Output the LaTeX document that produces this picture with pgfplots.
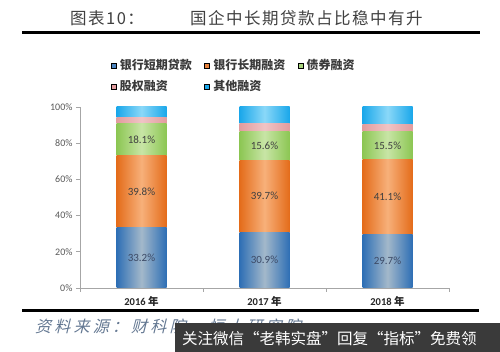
\documentclass[border=0pt]{standalone}
\usepackage{pgfplots}
\pgfplotsset{compat=1.18}
\usepackage{pgfplotstable}
\usepackage{fontspec}
\setmainfont{Carlito}
\newfontfamily\cjk{Noto Sans CJK SC}
\newfontfamily\cjksl[FakeSlant=0.25, LetterSpace=20]{Noto Sans CJK SC}
\newfontfamily\cjktitle[LetterSpace=9]{Noto Sans CJK SC}

\definecolor{blueE}{HTML}{2E6FB5}
\definecolor{blueC}{HTML}{A3B8CA}
\definecolor{orangeE}{HTML}{E46C1A}
\definecolor{orangeC}{HTML}{F7B07A}
\definecolor{greenE}{HTML}{8CC653}
\definecolor{greenC}{HTML}{C8E5A6}
\definecolor{pinkE}{HTML}{E29C9E}
\definecolor{pinkC}{HTML}{F0C4C5}
\definecolor{skyE}{HTML}{1AA7EA}
\definecolor{skyC}{HTML}{8AD8F8}
\definecolor{axgray}{HTML}{A6A6A6}
\definecolor{labgray}{HTML}{595959}
\definecolor{titlegray}{HTML}{404040}
\definecolor{srcblue}{HTML}{647892}
\definecolor{wmgray}{HTML}{3A3A3A}
\definecolor{legtext}{HTML}{3A3A3A}
\definecolor{bluelab}{HTML}{3C4A66}

% one table per year: x, then the five shares
\pgfplotstableread{
x short long bond equity other
0 33.2 39.8 18.1 3.0 5.9
}\dataA
\pgfplotstableread{
x short long bond equity other
1 30.9 39.7 15.6 4.5 9.3
}\dataB
\pgfplotstableread{
x short long bond equity other
2 29.7 41.1 15.5 4.0 9.7
}\dataC

\pgfplotsset{
  sqleg/.style={legend image code/.code={\fill[##1] (0pt,-2.5pt) rectangle (5pt,2.5pt);}},
  frame/.style={at={(80pt,64pt)}, anchor=south west,
    scale only axis, width=369pt, height=181pt,
    xmin=-0.5, xmax=2.5, ymin=0, ymax=100},
  barsaxis/.style={frame, hide axis, ybar stacked, bar width=50pt},
  sh/.style={draw=none, left color=#1E, right color=#1E, middle color=#1C},
}
\newcommand\yearbars[1]{%
\begin{axis}[barsaxis]
\addplot[sh=blue] table[x=x,y=short]{#1};
\addplot[sh=orange] table[x=x,y=long]{#1};
\addplot[sh=green] table[x=x,y=bond]{#1};
\addplot[sh=pink] table[x=x,y=equity]{#1};
\addplot[sh=sky] table[x=x,y=other]{#1};
\end{axis}}

\begin{document}
\begin{tikzpicture}[x=1pt,y=1pt]
\useasboundingbox (0,0) rectangle (500,352);
\node[anchor=west, text=titlegray, font=\cjktitle\fontsize{16.5}{17}\selectfont, inner sep=0pt] at (70,334) {图表10：};
\node[anchor=west, text=titlegray, font=\cjktitle\fontsize{16.5}{17}\selectfont, inner sep=0pt] at (190,334) {国企中长期贷款占比稳中有升};
\fill[black] (22,317.5) rectangle (480,320.5);
\fill[black] (22,39.8) rectangle (479,42.8);

\yearbars{\dataA}
\yearbars{\dataB}
\yearbars{\dataC}

\begin{axis}[
  frame,
  axis x line*=bottom, axis y line*=left,
  axis line style={draw=axgray, line width=0.8pt, -},
  tick align=outside, major tick length=4pt,
  xtick={0,1,2},
  xticklabels={2016 {\cjk\bfseries 年},2017 {\cjk\bfseries 年},2018 {\cjk\bfseries 年}},
  major x tick style={draw=none},
  extra x ticks={-0.5,0.5,1.5,2.5}, extra x tick labels={},
  extra x tick style={major x tick style={draw=axgray, line width=0.8pt}},
  xticklabel style={font=\bfseries\fontsize{10.5}{11}\selectfont, text=black!85, yshift=-1pt},
  ytick={0,20,40,60,80,100},
  yticklabels={0\%,20\%,40\%,60\%,80\%,100\%},
  ytick style={draw=axgray, line width=0.8pt},
  yticklabel style={font=\fontsize{10}{10}\selectfont, text=labgray},
  legend columns=3,
  legend cell align=left,
  legend style={at={(0.0840,1.265)}, anchor=north west, draw=none, fill=none,
    inner sep=0pt, outer sep=0pt, row sep=8pt,
    font=\cjk\bfseries\fontsize{12}{12}\selectfont, text=legtext,
    nodes={inner sep=0.5pt},
    /tikz/every odd column/.append style={column sep=3pt},
    /tikz/every even column/.append style={column sep=12pt}},
]
\addlegendimage{sqleg, fill=blueE!85}\addlegendentry{银行短期贷款}
\addlegendimage{sqleg, fill=orangeE!85}\addlegendentry{银行长期融资}
\addlegendimage{sqleg, fill=greenE!75}\addlegendentry{债券融资}
\addlegendimage{sqleg, fill=pinkE}\addlegendentry{股权融资}
\addlegendimage{sqleg, fill=skyE}\addlegendentry{其他融资}
\end{axis}

\begin{axis}[frame, hide axis, clip=false]
\addplot[draw=none, mark=none, nodes near coords, point meta=explicit symbolic,
  every node near coord/.append style={anchor=center, font=\fontsize{11}{11}\selectfont, text=bluelab}]
  coordinates {(0,16.6)[33.2\%] (1,15.45)[30.9\%] (2,14.85)[29.7\%]};
\addplot[draw=none, mark=none, nodes near coords, point meta=explicit symbolic,
  every node near coord/.append style={anchor=center, font=\fontsize{11}{11}\selectfont, text=black!75}]
  coordinates {(0,53.1)[39.8\%] (1,50.75)[39.7\%] (2,50.25)[41.1\%]
               (0,82.05)[18.1\%] (1,78.4)[15.6\%] (2,78.55)[15.5\%]};
\end{axis}

\node[anchor=west, font=\cjksl\fontsize{16}{16}\selectfont, text=srcblue, inner sep=0pt] at (35,25) {资料来源：财科院，恒大研究院};
\fill[wmgray] (175,0) rectangle (500,28.7);
\node[anchor=west, text=white, font=\cjk\fontsize{15.5}{16}\selectfont, inner sep=0pt] at (182,13) {关注微信“老韩实盘”回复“指标”免费领};
\end{tikzpicture}
\end{document}
